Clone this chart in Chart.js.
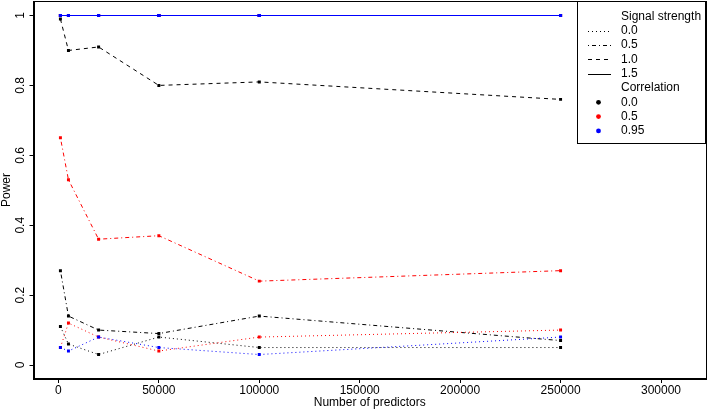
<!DOCTYPE html>
<html><head><meta charset="utf-8">
<script src="https://cdn.jsdelivr.net/npm/chart.js@4.4.1/dist/chart.umd.min.js"></script>
<style>html,body{margin:0;padding:0;background:#fff}canvas{display:block}</style>
</head><body><canvas id="c" width="708" height="410"></canvas>
<script>
// ---- data ----
const predictors = [1000, 5000, 20000, 50000, 100000, 250000];
const signalLabels = ['0.0', '0.5', '1.0', '1.5'];
const correlationLabels = ['0.0', '0.5', '0.95'];

const power_s00_c000 = [0.11, 0.06, 0.03, 0.08, 0.05, 0.05];
const power_s00_c050 = [0.05, 0.12, 0.08, 0.04, 0.08, 0.10];
const power_s00_c095 = [0.05, 0.04, 0.08, 0.05, 0.03, 0.08];
const power_s05_c000 = [0.27, 0.14, 0.10, 0.09, 0.14, 0.07];
const power_s05_c050 = [0.65, 0.53, 0.36, 0.37, 0.24, 0.27];
const power_s05_c095 = [1, 1, 1, 1, 1, 1];
const power_s10_c000 = [0.99, 0.90, 0.91, 0.80, 0.81, 0.76];
const power_s10_c050 = [1, 1, 1, 1, 1, 1];
const power_s10_c095 = [1, 1, 1, 1, 1, 1];
const power_s15_c000 = [1, 1, 1, 1, 1, 1];
const power_s15_c050 = [1, 1, 1, 1, 1, 1];
const power_s15_c095 = [1, 1, 1, 1, 1, 1];

const xTickValues = [0, 50000, 100000, 150000, 200000, 250000, 300000];
const yTickValues = [0, 0.2, 0.4, 0.6, 0.8, 1];
const yTickLabels = ['0', '0.2', '0.4', '0.6', '0.8', '1'];

// ---- styles ----
const corrColors = ['#000000', '#ff0000', '#0000ff'];
const signalDashes = [[1, 3], [1, 3, 4, 3], [4, 4], []];
const FONT = "'Liberation Sans', Arial, Helvetica, sans-serif";

const grid = [
  [power_s00_c000, power_s00_c050, power_s00_c095],
  [power_s05_c000, power_s05_c050, power_s05_c095],
  [power_s10_c000, power_s10_c050, power_s10_c095],
  [power_s15_c000, power_s15_c050, power_s15_c095]
];

const datasets = [];
grid.forEach((row, si) => {
  row.forEach((vals, ci) => {
    datasets.push({
      label: 'signal ' + signalLabels[si] + ', corr ' + correlationLabels[ci],
      data: predictors.map((x, i) => ({x: x, y: vals[i]})),
      borderColor: corrColors[ci],
      backgroundColor: corrColors[ci],
      borderWidth: 1,
      borderDash: signalDashes[si],
      pointStyle: 'rect',
      pointRadius: 2.1,
      pointBorderWidth: 0,
      pointBackgroundColor: corrColors[ci],
      tension: 0,
      fill: false,
      order: (2 - ci) * 10 + (3 - si)
    });
  });
});

Chart.defaults.font.family = FONT;
Chart.defaults.font.size = 12;
Chart.defaults.color = '#000';

const decor = {
  id: 'decor',
  afterDraw(chart) {
    const ctx = chart.ctx;
    const a = chart.chartArea;
    const ys = chart.scales.y;
    ctx.save();
    // box
    ctx.strokeStyle = '#000';
    ctx.lineWidth = 1;
    ctx.strokeRect(Math.round(a.left) + 0.5, Math.round(a.top) + 0.5,
                   Math.round(a.right - a.left) - 1, Math.round(a.bottom - a.top) - 1);
    // rotated y tick labels
    ctx.fillStyle = '#000';
    ctx.font = '12px ' + FONT;
    ctx.textAlign = 'center';
    ctx.textBaseline = 'middle';
    yTickValues.forEach((v, i) => {
      const y = ys.getPixelForValue(v);
      ctx.save();
      ctx.translate(21, y);
      ctx.rotate(-Math.PI / 2);
      ctx.fillText(yTickLabels[i], 0, 0);
      ctx.restore();
    });
    // legend
    const L = 577, T = Math.round(a.top), R = Math.round(a.right), B = 144;
    ctx.fillStyle = '#fff';
    ctx.fillRect(L, T, R - L, B - T);
    ctx.strokeStyle = '#000';
    ctx.strokeRect(L + 0.5, T + 0.5, R - L - 1, B - T - 1);
    ctx.fillStyle = '#000';
    ctx.textAlign = 'left';
    const tx = 621, step = 14.3;
    let y0 = 16.5;
    ctx.fillText('Signal strength', tx, y0);
    signalLabels.forEach((lab, i) => {
      const y = y0 + step * (i + 1);
      ctx.beginPath();
      ctx.setLineDash(signalDashes[i]);
      ctx.strokeStyle = '#000';
      ctx.moveTo(588, Math.round(y) + 0.5);
      ctx.lineTo(611, Math.round(y) + 0.5);
      ctx.stroke();
      ctx.setLineDash([]);
      ctx.fillText(lab, tx, y);
    });
    const yc = y0 + step * 5;
    ctx.fillText('Correlation', tx, yc);
    correlationLabels.forEach((lab, i) => {
      const y = yc + step * (i + 1);
      ctx.beginPath();
      ctx.fillStyle = corrColors[i];
      ctx.arc(598.5, y, 2.4, 0, Math.PI * 2);
      ctx.fill();
      ctx.fillStyle = '#000';
      ctx.fillText(lab, tx, y);
    });
    ctx.restore();
  }
};

new Chart(document.getElementById('c'), {
  type: 'line',
  data: {datasets: datasets},
  options: {
    responsive: false,
    animation: false,
    devicePixelRatio: 1,
    layout: {autoPadding: false, padding: {top: 1, right: 2, left: 0, bottom: 0}},
    plugins: {legend: {display: false}, tooltip: {enabled: false}},
    scales: {
      x: {
        type: 'linear',
        min: -12400,
        max: 322400,
        afterBuildTicks: s => { s.ticks = xTickValues.map(v => ({value: v})); },
        afterFit: s => { s.height = 31; s.paddingLeft = 0; s.paddingRight = 0; },
        ticks: {padding: 0, maxRotation: 0, autoSkip: false, color: '#000',
                callback: v => String(v)},
        grid: {drawOnChartArea: false, drawTicks: true, tickLength: 4, color: '#000'},
        border: {display: true, color: '#000'},
        title: {display: true, text: 'Number of predictors', padding: {top: 0, bottom: 0}, color: '#000'}
      },
      y: {
        type: 'linear',
        min: -0.04,
        max: 1.0415,
        afterBuildTicks: s => { s.ticks = yTickValues.map(v => ({value: v})); },
        afterFit: s => { s.width = 33.5; s.paddingTop = 0; s.paddingBottom = 0; },
        ticks: {display: false},
        grid: {drawOnChartArea: false, drawTicks: true, tickLength: 4, color: '#000'},
        border: {display: true, color: '#000'},
        title: {display: true, text: 'Power', padding: {top: -1, bottom: 0}, color: '#000'}
      }
    }
  },
  plugins: [decor]
});
</script>
</body></html>
